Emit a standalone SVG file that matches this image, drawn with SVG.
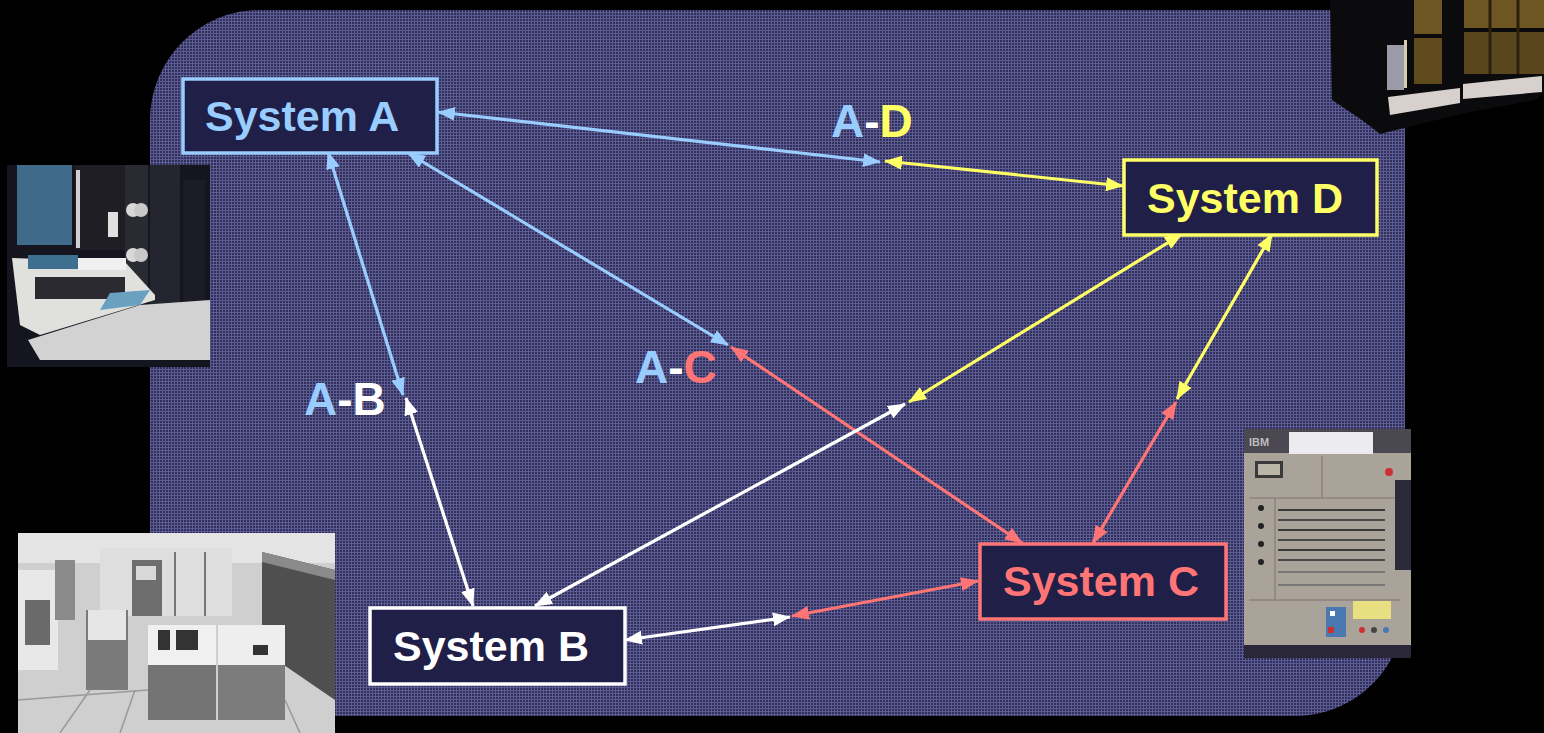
<svg xmlns="http://www.w3.org/2000/svg" width="1544" height="733" viewBox="0 0 1544 733">
  <defs>
    <pattern id="grid" x="0" y="0" width="3" height="3" patternUnits="userSpaceOnUse">
      <rect width="3" height="3" fill="#5c5b96"/>
      <rect x="1" y="1" width="2" height="2" fill="#302f56"/>
    </pattern>
    <marker id="mBlue" viewBox="0 0 18 14" refX="17" refY="7" markerWidth="18" markerHeight="14" markerUnits="userSpaceOnUse" orient="auto-start-reverse">
      <path d="M0,0 L18,7 L0,14 Z" fill="#99ccff"/>
    </marker>
    <marker id="mYellow" viewBox="0 0 18 14" refX="17" refY="7" markerWidth="18" markerHeight="14" markerUnits="userSpaceOnUse" orient="auto-start-reverse">
      <path d="M0,0 L18,7 L0,14 Z" fill="#ffff66"/>
    </marker>
    <marker id="mWhite" viewBox="0 0 18 14" refX="17" refY="7" markerWidth="18" markerHeight="14" markerUnits="userSpaceOnUse" orient="auto-start-reverse">
      <path d="M0,0 L18,7 L0,14 Z" fill="#ffffff"/>
    </marker>
    <marker id="mPink" viewBox="0 0 18 14" refX="17" refY="7" markerWidth="18" markerHeight="14" markerUnits="userSpaceOnUse" orient="auto-start-reverse">
      <path d="M0,0 L18,7 L0,14 Z" fill="#ff7575"/>
    </marker>
  </defs>
  <style>
    .node rect { fill: #1f1f48; stroke-width: 3.5; }
    .ntext { font-family: "Liberation Sans", Arial, sans-serif; font-weight: bold; font-size: 43px; }
    .label { font-family: "Liberation Sans", Arial, sans-serif; font-weight: bold; font-size: 46px; }
    .blue { fill: #99ccff; }
    .yellow { fill: #ffff66; }
    .white { fill: #ffffff; }
    .pink { fill: #ff7575; }
    .conn line { stroke-width: 3.2; fill: none; }
    .cb { stroke: #99ccff; marker-start: url(#mBlue); marker-end: url(#mBlue); }
    .cy { stroke: #ffff66; marker-start: url(#mYellow); marker-end: url(#mYellow); }
    .cw { stroke: #ffffff; marker-start: url(#mWhite); marker-end: url(#mWhite); }
    .cp { stroke: #ff7575; marker-start: url(#mPink); marker-end: url(#mPink); }
  </style>

  <rect width="1544" height="733" fill="#000000"/>
  <path id="panel" d="M150,120 A110,110 0 0 1 260,10 H1405 V606 A110,110 0 0 1 1295,716 H150 Z" fill="url(#grid)"/>

  <!-- photo: top right cabinet -->
  <g id="photo-top-right">
    <path d="M1330,0 H1544 V92 L1536,100 L1470,112 L1420,124 L1380,134 L1362,120 L1332,100 Z" fill="#0b0b0d"/>
    <rect x="1414" y="0" width="28" height="34" fill="#6e5622"/>
    <rect x="1414" y="38" width="28" height="46" fill="#5f4a1d"/>
    <rect x="1464" y="0" width="80" height="28" fill="#6e5622"/>
    <rect x="1464" y="32" width="80" height="42" fill="#5a461c"/>
    <line x1="1490" y1="0" x2="1490" y2="74" stroke="#2a200c" stroke-width="3"/>
    <line x1="1518" y1="0" x2="1518" y2="74" stroke="#2a200c" stroke-width="3"/>
    <rect x="1387" y="45" width="17" height="45" fill="#9a9aa8"/>
    <rect x="1404" y="40" width="3" height="48" fill="#d8ccb0"/>
    <path d="M1388,97 L1460,88 L1460,103 L1390,115 Z" fill="#d8d0cc"/>
    <path d="M1463,84 L1542,76 L1542,92 L1463,99 Z" fill="#d8d0cc"/>
  </g>

  <!-- photo: left console -->
  <g id="photo-left">
    <rect x="7" y="165" width="203" height="202" fill="#15151f"/>
    <rect x="17" y="165" width="55" height="80" fill="#3f6a8a"/>
    <rect x="75" y="165" width="50" height="85" fill="#1e1e24"/>
    <rect x="76" y="170" width="4" height="78" fill="#cfcfd4"/>
    <rect x="108" y="212" width="10" height="25" fill="#e0e0e0"/>
    <rect x="125" y="165" width="23" height="130" fill="#2a2a33"/>
    <circle cx="133" cy="210" r="7" fill="#d8d8d8"/>
    <circle cx="141" cy="210" r="7" fill="#c8c8c8"/>
    <circle cx="133" cy="255" r="7" fill="#d8d8d8"/>
    <circle cx="141" cy="255" r="7" fill="#c8c8c8"/>
    <rect x="150" y="165" width="30" height="150" fill="#252530"/>
    <rect x="183" y="180" width="22" height="130" fill="#1c1c26"/>
    <path d="M12,258 L125,262 L155,295 L155,300 L40,335 L20,325 Z" fill="#e0e0dc"/>
    <rect x="28" y="255" width="50" height="14" fill="#3f6f8f"/>
    <rect x="78" y="258" width="48" height="12" fill="#f0f0f0"/>
    <rect x="35" y="277" width="90" height="22" fill="#2a2a30"/>
    <path d="M110,293 L150,290 L140,305 L100,310 Z" fill="#6aa0c0"/>
    <path d="M28,340 L140,305 L210,300 L210,360 L40,360 Z" fill="#d2d2d2"/>
  </g>

  <!-- photo: bottom left computer room -->
  <g id="photo-bottom-left">
    <rect x="18" y="533" width="317" height="200" fill="#cfcfcf"/>
    <rect x="18" y="533" width="317" height="30" fill="#e4e4e4"/>
    <rect x="100" y="548" width="132" height="68" fill="#dedede"/>
    <rect x="132" y="560" width="30" height="56" fill="#6e6e6e"/>
    <rect x="136" y="566" width="20" height="14" fill="#d8d8d8"/>
    <line x1="175" y1="552" x2="175" y2="616" stroke="#777" stroke-width="2"/>
    <line x1="205" y1="552" x2="205" y2="616" stroke="#777" stroke-width="2"/>
    <path d="M262,552 L335,570 L335,700 L262,650 Z" fill="#4f4f4f"/>
    <path d="M262,552 L335,570 L335,580 L262,562 Z" fill="#8a8a8a"/>
    <rect x="18" y="570" width="40" height="100" fill="#e8e8e8"/>
    <rect x="25" y="600" width="25" height="45" fill="#6a6a6a"/>
    <rect x="55" y="560" width="20" height="60" fill="#8a8a8a"/>
    <rect x="86" y="610" width="42" height="80" fill="#7a7a7a"/>
    <rect x="88" y="610" width="38" height="30" fill="#e6e6e6"/>
    <rect x="148" y="630" width="68" height="90" fill="#747474"/>
    <rect x="148" y="625" width="68" height="40" fill="#f0f0f0"/>
    <rect x="158" y="630" width="12" height="20" fill="#333"/>
    <rect x="176" y="630" width="22" height="20" fill="#333"/>
    <rect x="218" y="630" width="67" height="90" fill="#7c7c7c"/>
    <rect x="218" y="625" width="67" height="40" fill="#eeeeee"/>
    <rect x="253" y="645" width="15" height="10" fill="#333"/>
    <line x1="18" y1="700" x2="148" y2="690" stroke="#999" stroke-width="1.5"/>
    <line x1="60" y1="733" x2="90" y2="690" stroke="#999" stroke-width="1.5"/>
    <line x1="120" y1="733" x2="135" y2="690" stroke="#999" stroke-width="1.5"/>
    <line x1="300" y1="733" x2="285" y2="700" stroke="#999" stroke-width="1.5"/>
  </g>

  <!-- photo: right IBM panel -->
  <g id="photo-right">
    <rect x="1244" y="429" width="167" height="229" fill="#aaa39a"/>
    <rect x="1244" y="429" width="167" height="24" fill="#4a4850"/>
    <rect x="1289" y="432" width="84" height="22" fill="#ececf0"/>
    <text x="1249" y="446" font-family="Liberation Sans, Arial, sans-serif" font-size="11" font-weight="bold" fill="#bdbdbd">IBM</text>
    <rect x="1255" y="461" width="28" height="17" fill="#3a3a3a"/>
    <rect x="1258" y="464" width="22" height="11" fill="#bbb5a8"/>
    <line x1="1249" y1="498" x2="1400" y2="498" stroke="#8c857c" stroke-width="1.5"/>
    <line x1="1322" y1="456" x2="1322" y2="498" stroke="#8c857c" stroke-width="1.5"/>
    <circle cx="1389" cy="472" r="4" fill="#cc3030"/>
    <line x1="1278" y1="510" x2="1385" y2="510" stroke="#3a3a3a" stroke-width="2"/>
    <line x1="1278" y1="520" x2="1385" y2="520" stroke="#4a4a4a" stroke-width="2"/>
    <line x1="1278" y1="530" x2="1385" y2="530" stroke="#3a3a3a" stroke-width="2"/>
    <line x1="1278" y1="540" x2="1385" y2="540" stroke="#4a4a4a" stroke-width="2"/>
    <line x1="1278" y1="550" x2="1385" y2="550" stroke="#3a3a3a" stroke-width="2"/>
    <line x1="1278" y1="560" x2="1385" y2="560" stroke="#4a4a4a" stroke-width="2"/>
    <line x1="1278" y1="572" x2="1385" y2="572" stroke="#6a6a6a" stroke-width="1.5"/>
    <line x1="1278" y1="585" x2="1385" y2="585" stroke="#6a6a6a" stroke-width="1.5"/>
    <line x1="1275" y1="498" x2="1275" y2="600" stroke="#8c857c" stroke-width="1.5"/>
    <circle cx="1261" cy="508" r="3" fill="#222"/>
    <circle cx="1261" cy="526" r="3" fill="#222"/>
    <circle cx="1261" cy="544" r="3" fill="#222"/>
    <circle cx="1261" cy="562" r="3" fill="#222"/>
    <rect x="1395" y="480" width="16" height="90" fill="#2a2a3a"/>
    <line x1="1249" y1="600" x2="1400" y2="600" stroke="#8c857c" stroke-width="1.5"/>
    <rect x="1326" y="607" width="20" height="30" fill="#4a78b0"/>
    <rect x="1330" y="611" width="5" height="5" fill="#ffffff"/>
    <rect x="1328" y="627" width="6" height="6" fill="#cc3030"/>
    <rect x="1353" y="601" width="38" height="18" fill="#e8e080"/>
    <circle cx="1362" cy="630" r="3" fill="#cc3030"/>
    <circle cx="1374" cy="630" r="3" fill="#444"/>
    <circle cx="1386" cy="630" r="3" fill="#4a78b0"/>
    <rect x="1244" y="645" width="167" height="13" fill="#2a2838"/>
  </g>

  <!-- connectors -->
  <g id="connectors" class="conn">
    <line class="cb" x1="438" y1="112" x2="880" y2="162"/>
    <line class="cy" x1="885" y1="161" x2="1123" y2="186"/>
    <line class="cb" x1="328" y1="152" x2="403" y2="395"/>
    <line class="cw" x1="406" y1="398" x2="473" y2="606"/>
    <line class="cb" x1="408" y1="153" x2="728" y2="345"/>
    <line class="cp" x1="731" y1="347" x2="1022" y2="543"/>
    <line class="cy" x1="1182" y1="234" x2="909" y2="402"/>
    <line class="cw" x1="905" y1="404" x2="535" y2="606"/>
    <line class="cy" x1="1272" y1="234" x2="1177" y2="399"/>
    <line class="cp" x1="1176" y1="402" x2="1093" y2="543"/>
    <line class="cw" x1="625" y1="640" x2="790" y2="617"/>
    <line class="cp" x1="792" y1="616" x2="978" y2="581"/>
  </g>

  <!-- nodes -->
  <g id="node-a" class="node">
    <rect x="183" y="79" width="254" height="74" stroke="#99ccff"/>
    <text class="ntext blue" x="205" y="131">System A</text>
  </g>
  <g id="node-d" class="node">
    <rect x="1124" y="160" width="253" height="75" stroke="#ffff66"/>
    <text class="ntext yellow" x="1147" y="213">System D</text>
  </g>
  <g id="node-b" class="node">
    <rect x="370" y="608" width="255" height="76" stroke="#ffffff"/>
    <text class="ntext white" x="393" y="661">System B</text>
  </g>
  <g id="node-c" class="node">
    <rect x="980" y="544" width="246" height="75" stroke="#ff7575"/>
    <text class="ntext pink" x="1003" y="596">System C</text>
  </g>

  <!-- edge labels -->
  <g id="labels">
    <text class="label" x="831" y="137"><tspan class="blue">A</tspan><tspan class="white">-</tspan><tspan class="yellow">D</tspan></text>
    <text class="label" x="304" y="415"><tspan class="blue">A</tspan><tspan class="white">-B</tspan></text>
    <text class="label" x="635" y="383"><tspan class="blue">A</tspan><tspan class="white">-</tspan><tspan class="pink">C</tspan></text>
  </g>
</svg>
